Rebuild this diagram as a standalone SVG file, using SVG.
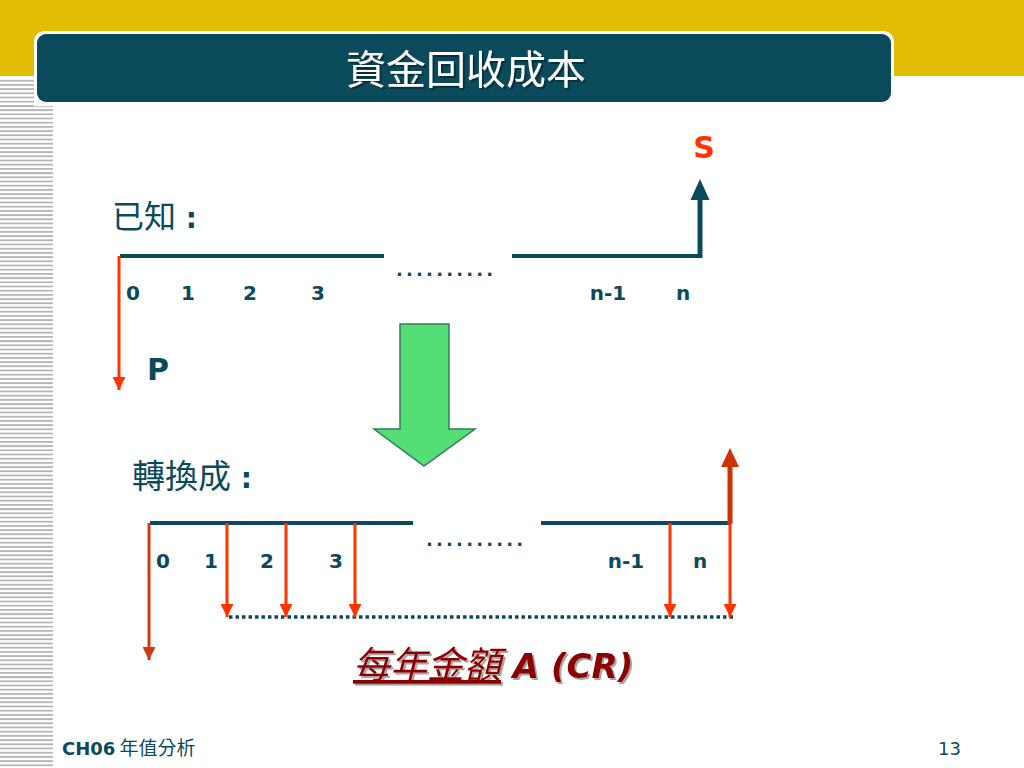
<svg xmlns="http://www.w3.org/2000/svg" width="1024" height="768" viewBox="0 0 1024 768">
<style>
.t{font-family:"DejaVu Sans","Noto Sans CJK TC",sans-serif;fill:#0B4A5A}
.cjk{font-family:"Noto Sans CJK TC","Liberation Sans",sans-serif;fill:#0B4A5A}
.num{font-family:"DejaVu Sans",sans-serif;font-weight:bold;font-size:20px;fill:#0B4A5A;text-anchor:middle}
.axis{stroke:#0B4A5A;stroke-width:4;fill:none}
.red{stroke:#FF3300;stroke-width:3;fill:none}
.dots{font-family:"DejaVu Sans",sans-serif;font-weight:bold;font-size:18px;fill:#0B4A5A;letter-spacing:3.2px}
</style>
<defs>
<pattern id="stripes" patternUnits="userSpaceOnUse" width="8" height="4.2">
<rect x="0" y="0" width="8" height="1.8" fill="#b4b4b4"/>
</pattern>
<marker id="ar" viewBox="0 0 10 10" refX="10" refY="5" markerWidth="4.3" markerHeight="4.3" orient="auto" markerUnits="strokeWidth">
<path d="M0,0 L10,5 L0,10 z" fill="#FF3300"/>
</marker>
<marker id="ard" viewBox="0 0 10 10" refX="10" refY="5" markerWidth="4.3" markerHeight="4.3" orient="auto" markerUnits="strokeWidth">
<path d="M0,0 L10,5 L0,10 z" fill="#D03A10"/>
</marker>
<filter id="sh" x="-5%" y="-5%" width="110%" height="120%">
<feDropShadow dx="2" dy="2" stdDeviation="0.5" flood-color="#000" flood-opacity="0.35"/>
</filter>
</defs>
<rect width="1024" height="768" fill="#ffffff"/>
<rect x="0" y="0" width="1024" height="76" fill="#E2BD03"/>
<rect x="0" y="78" width="34" height="30" fill="url(#stripes)"/>
<rect x="0" y="106" width="53" height="662" fill="url(#stripes)"/>
<g id="title">
<rect x="34" y="31" width="860" height="74" rx="11" fill="#ffffff"/>
<rect x="37" y="34" width="854" height="68" rx="9" fill="#0B4A5A"/>
<text x="466" y="84" font-family="'Noto Sans CJK TC',sans-serif" font-size="40" fill="#ffffff" text-anchor="middle" filter="url(#sh)">資金回收成本</text>
</g>
<g id="given">
<text class="cjk" x="112" y="228" font-size="32">已知<tspan font-family="DejaVu Sans,sans-serif" font-weight="bold" font-size="28"> :</tspan></text>
<text x="158" y="380" font-family="DejaVu Sans,sans-serif" font-weight="bold" font-size="30" fill="#0B4A5A" text-anchor="middle">P</text>
<text x="704" y="158" font-family="DejaVu Sans,sans-serif" font-weight="bold" font-size="30" fill="#FF3300" text-anchor="middle">S</text>
<text class="num" x="133" y="300">0</text>
<text class="num" x="188" y="300">1</text>
<text class="num" x="250" y="300">2</text>
<text class="num" x="318" y="300">3</text>
<text class="num" x="608" y="300">n-1</text>
<text class="num" x="683" y="300">n</text>
<text class="dots" x="396" y="276">..........</text>
</g>
<g id="convert">
<text class="cjk" x="132" y="488" font-size="33">轉換成<tspan font-family="DejaVu Sans,sans-serif" font-weight="bold" font-size="28"> :</tspan></text>
<text class="num" x="163" y="568">0</text>
<text class="num" x="211" y="568">1</text>
<text class="num" x="267" y="568">2</text>
<text class="num" x="336" y="568">3</text>
<text class="num" x="626" y="568">n-1</text>
<text class="num" x="700" y="568">n</text>
<text class="dots" x="426" y="546">..........</text>
</g>
<g id="annuity-label">
<text x="353" y="678" font-family="DejaVu Sans,'Noto Sans CJK TC',sans-serif" font-size="34" font-style="italic" font-weight="bold" fill="#8B0000" filter="url(#sh)"><tspan font-family="'Noto Sans CJK TC',sans-serif" font-size="37" font-weight="normal" text-decoration="underline">每年金額</tspan> A (CR)</text>
</g>
<g id="green-arrow">
<path d="M400,324 L449,324 L449,429 L475,429 L424,466 L374,429 L400,429 Z" fill="#56DE76" stroke="#2E7D5B" stroke-width="1.5"/>
</g>
<g id="connectors">
<path class="axis" d="M120,256 H384"/>
<path class="axis" d="M512,256 H700"/>
<path d="M700,258 V198" stroke="#0B4A5A" stroke-width="5" fill="none"/>
<path d="M690.5,200 L700,179 L709.5,200 Z" fill="#0B4A5A"/>
<path class="red" d="M119,256 V390" marker-end="url(#ar)"/>
<path class="axis" d="M150,523 H413"/>
<path class="axis" d="M541,523 H730"/>
<path d="M229,617 H734" stroke="#0B4A5A" stroke-width="3.5" stroke-dasharray="3.5 3" fill="none"/>
<path d="M149,523 V660" stroke="#D03A10" stroke-width="3" fill="none" marker-end="url(#ard)"/>
<path class="red" d="M227,523 V617" marker-end="url(#ar)"/>
<path class="red" d="M286,523 V617" marker-end="url(#ar)"/>
<path class="red" d="M355,523 V617" marker-end="url(#ar)"/>
<path class="red" d="M670,523 V617" marker-end="url(#ar)"/>
<path class="red" d="M730,523 V617" marker-end="url(#ar)"/>
<path d="M730,524 V465" stroke="#CC3300" stroke-width="5" fill="none"/>
<path d="M721,467 L730,448 L739,467 Z" fill="#CC3300"/>
</g>
<g id="footer">
<text class="t" x="62" y="755" font-size="18"><tspan font-weight="bold">CH06</tspan><tspan font-family="'Noto Sans CJK TC',sans-serif" font-size="19"> 年值分析</tspan></text>
<text class="t" x="961" y="755" font-size="18" text-anchor="end">13</text>
</g>
</svg>
